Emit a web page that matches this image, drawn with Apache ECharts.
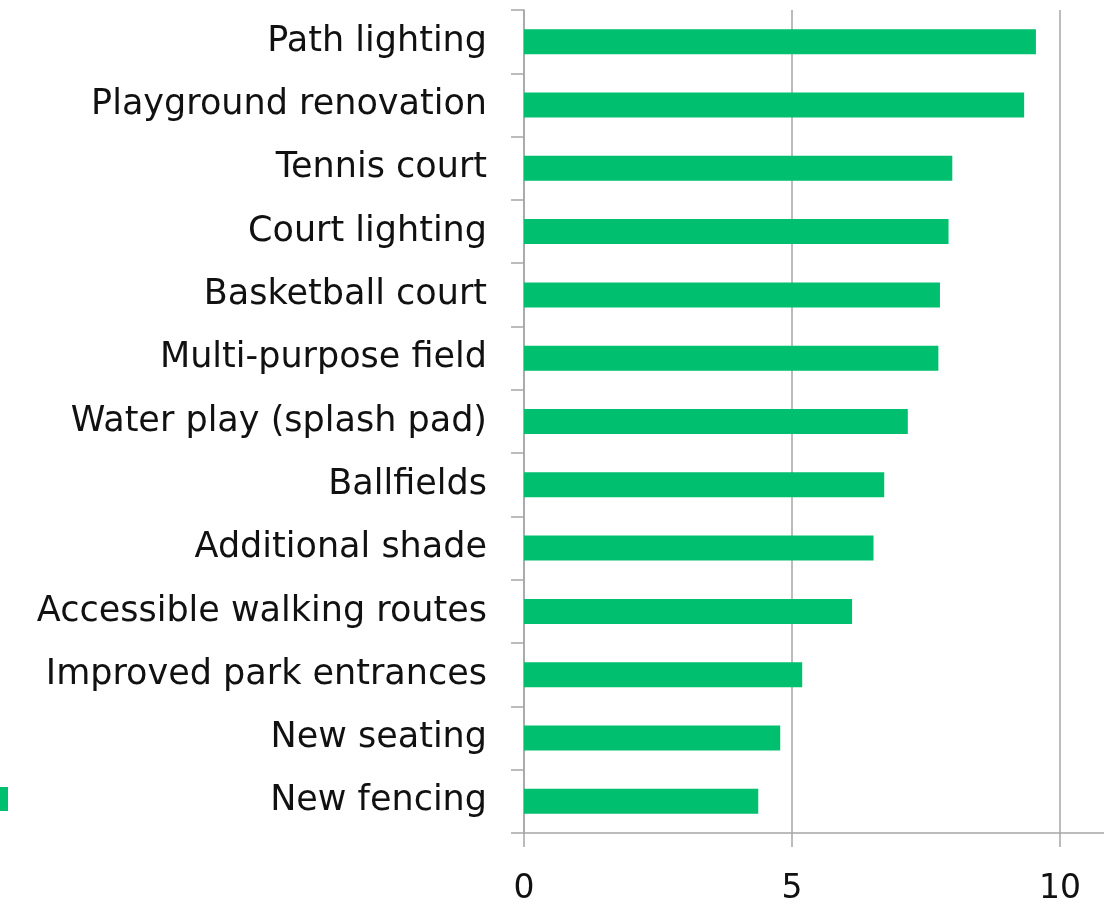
<!DOCTYPE html>
<html>
<head>
<meta charset="utf-8">
<title>Park improvements</title>
<script src="https://cdn.jsdelivr.net/npm/echarts@6/dist/echarts.min.js"></script>
<style>
  html, body { margin: 0; padding: 0; background: #fff; }
  #main { width: 1104px; height: 904px; }
</style>
</head>
<body>
<div id="main"></div>
<script>
// categories, top to bottom
var categories = [
  'Path lighting', 'Playground renovation', 'Tennis court', 'Court lighting',
  'Basketball court', 'Multi-purpose field', 'Water play (splash pad)', 'Ballfields',
  'Additional shade', 'Accessible walking routes', 'Improved park entrances',
  'New seating', 'New fencing'
];
var scores = [9.55, 9.33, 7.99, 7.92, 7.76, 7.73, 7.16, 6.72, 6.52, 6.12, 5.19, 4.78, 4.37];
var tickValues = [0, 5, 10];
var seriesName = 'Average rating';

var myChart = echarts.init(document.getElementById('main'));

var option = {
  animation: false,
  textStyle: { fontFamily: 'DejaVu Sans' },
  legend: {
    left: -21,
    top: 782,
    icon: 'rect',
    itemWidth: 24,
    itemHeight: 24,
    formatter: function () { return ''; },
    data: [seriesName]
  },
  grid: {
    left: 524,
    right: 0,
    top: 10,
    bottom: 71,
    outerBoundsMode: 'none'
  },
  xAxis: {
    type: 'value',
    min: 0,
    max: 10.82,
    axisLine: { show: true, lineStyle: { color: '#a6a6a6', width: 1.5 } },
    axisTick: { show: true, length: 14, customValues: tickValues, lineStyle: { color: '#a6a6a6', width: 1.5 } },
    axisLabel: {
      customValues: tickValues,
      margin: 40,
      fontSize: 33,
      color: '#111',
      verticalAlign: 'top'
    },
    splitLine: { show: true, lineStyle: { color: '#a6a6a6', width: 1.5 } }
  },
  yAxis: {
    type: 'category',
    inverse: true,
    data: categories,
    axisLine: { show: true, lineStyle: { color: '#a6a6a6', width: 1.5 } },
    axisTick: { show: true, length: 13, lineStyle: { color: '#a6a6a6', width: 1.5 } },
    axisLabel: { margin: 37, fontSize: 35, color: '#111' }
  },
  series: [{
    name: seriesName,
    type: 'bar',
    data: scores,
    barWidth: 25,
    itemStyle: { color: '#00bf6f' }
  }]
};

myChart.setOption(option);
</script>
</body>
</html>
